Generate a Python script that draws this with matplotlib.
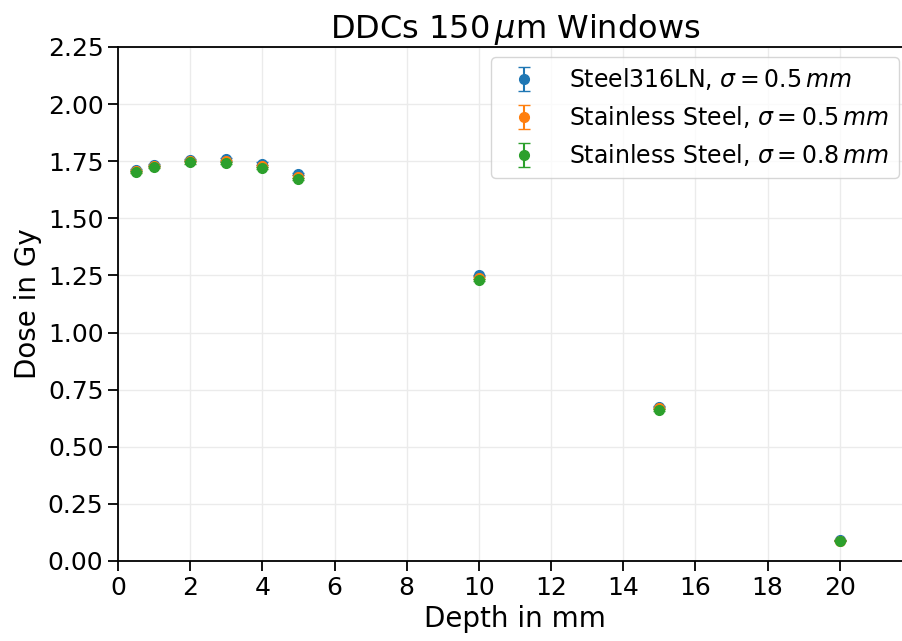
import numpy as np
import matplotlib
matplotlib.use("Agg")
import matplotlib.pyplot as plt

depth = np.array([0.5, 1, 2, 3, 4, 5, 10, 15, 20])

dose_316ln_05 = np.array([1.712, 1.733, 1.755, 1.758, 1.740, 1.694, 1.250, 0.675, 0.090])
dose_ss_05 = np.array([1.708, 1.729, 1.751, 1.750, 1.730, 1.683, 1.240, 0.668, 0.089])
dose_ss_08 = np.array([1.703, 1.724, 1.745, 1.742, 1.720, 1.672, 1.230, 0.661, 0.088])

err_316ln_05 = np.array([0.005, 0.005, 0.005, 0.005, 0.005, 0.005, 0.004, 0.003, 0.002])
err_ss_05 = np.array([0.005, 0.005, 0.005, 0.005, 0.005, 0.005, 0.004, 0.003, 0.002])
err_ss_08 = np.array([0.005, 0.005, 0.005, 0.005, 0.005, 0.005, 0.004, 0.003, 0.002])

labels = [r"Steel316LN, $\sigma = 0.5\,mm$",
          r"Stainless Steel, $\sigma = 0.5\,mm$",
          r"Stainless Steel, $\sigma = 0.8\,mm$"]

fig = plt.figure(figsize=(9.03, 6.41), dpi=100)
ax = fig.add_axes([118 / 903, 1 - 561 / 641, 794 / 903, (561 - 47) / 641])

for d, e, lab in zip([dose_316ln_05, dose_ss_05, dose_ss_08],
                     [err_316ln_05, err_ss_05, err_ss_08], labels):
    ax.errorbar(depth, d, yerr=e, fmt="o", markersize=7, capsize=4,
                elinewidth=1.5, label=lab)

ax.set_xlim(0, 22)
ax.set_ylim(0, 2.25)
ax.set_xticks(np.arange(0, 21, 2))
ax.set_yticks(np.arange(0, 2.26, 0.25))
ax.grid(True, color="#ebebeb", linewidth=1)
ax.set_axisbelow(True)
ax.tick_params(labelsize=18, length=7, width=1.3)
for s in ax.spines.values():
    s.set_linewidth(1.3)

ax.set_xlabel("Depth in mm", fontsize=20)
ax.set_ylabel("Dose in Gy", fontsize=20)
ax.set_title(r"DDCs 150$\,\mu$m Windows", fontsize=23)
ax.legend(loc="upper right", bbox_to_anchor=((899 - 118) / 794, (561 - 57) / 514),
          fontsize=17, handletextpad=0.9, borderaxespad=0)

fig.savefig("out.png", dpi=100)
